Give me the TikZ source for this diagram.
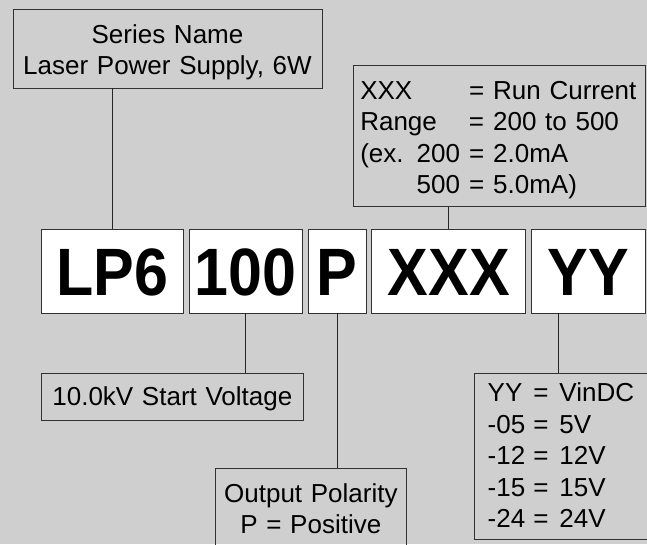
\documentclass[tikz,border=0pt]{standalone}
\usepackage{fontspec}
\setmainfont{Liberation Sans}
\newfontfamily\codefont[FakeStretch=0.91]{Liberation Sans Bold}
\usepackage{xcolor}
\usetikzlibrary{positioning}
\definecolor{bggray}{RGB}{207,207,207}
\definecolor{edgegray}{RGB}{50,50,50}

\begin{document}
\begin{tikzpicture}[x=1pt,y=-1pt]
\tikzstyle{codebox} =[draw=edgegray, line width=0.9pt, fill=white, inner sep=0pt, outer sep=0pt,
  minimum height=84pt, text height=48pt, text depth=0pt, font=\fontsize{67}{70}\codefont]
\tikzstyle{descbox} =[draw=edgegray, line width=0.9pt, inner xsep=0pt, inner ysep=8pt, outer sep=0pt,
  text height=26pt, anchor=north west, font=\fontsize{26}{31.5}\selectfont]
\tikzset{link/.style={draw=black!85, line width=0.9pt}}

\fill[bggray] (0,0) rectangle (647,544);
\useasboundingbox (0,0) rectangle (647,544);

\node[descbox, text width=309pt, align=center, text depth=37pt](series) at (13,9.3)
  {Series Name\\Laser Power Supply, 6W};

\node[codebox, anchor=north west, minimum width=141.6pt](lp6) at (41.7,229){LP6};
\node[codebox, minimum width=113.3pt, right=5.7pt of lp6](n100){100};
\node[codebox, minimum width=58pt, right=5.7pt of n100](pol){P};
\node[codebox, minimum width=154pt, right=5.7pt of pol](xxx){XXX};
\node[codebox, minimum width=113.6pt, right=5.7pt of xxx](yy){YY};

\node[descbox, inner xsep=7pt, text width=278.4pt, align=left, text depth=99.7pt](xxxd) at (353.3,65)
  {\begin{tabular}[t]{@{}l@{\hspace{9pt}}l@{\hspace{9pt}}l@{}}
   XXX & = & Run Current\\
   Range & = & 200 to 500\\
   (ex. 200 & = & 2.0mA\\
   \hfill 500 & = & 5.0mA)
   \end{tabular}};

\node[descbox, text width=261.3pt, align=center, text height=23.7pt, text depth=7.3pt](volt) at (41.7,373.3)
  {10.0kV Start Voltage};

\node[descbox, text width=191.7pt, align=center, text depth=37pt](outd) at (215,468)
  {Output Polarity\\P = Positive};

\node[descbox, inner xsep=13pt, inner ysep=6pt, text width=160pt, align=left, text height=22.3pt,
  text depth=131.7pt](yyd) at (474.7,373.3)
  {\begin{tabular}[t]{@{}l@{\hspace{8pt}}l@{\hspace{11pt}}l@{}}
   YY & = & VinDC\\
   -05 & = & 5V\\
   -12 & = & 12V\\
   -15 & = & 15V\\
   -24 & = & 24V
   \end{tabular}};

\draw[link] (lp6.north) -- (lp6.north |- series.south);
\draw[link] (n100.south) -- (n100.south |- volt.north);
\draw[link] (pol.south) -- (pol.south |- outd.north);
\draw[link] (xxx.north) -- (xxx.north |- xxxd.south);
\draw[link] ([xshift=-29.5pt]yy.south) -- ([xshift=-29.5pt]yy.south |- yyd.north);
\end{tikzpicture}
\end{document}
